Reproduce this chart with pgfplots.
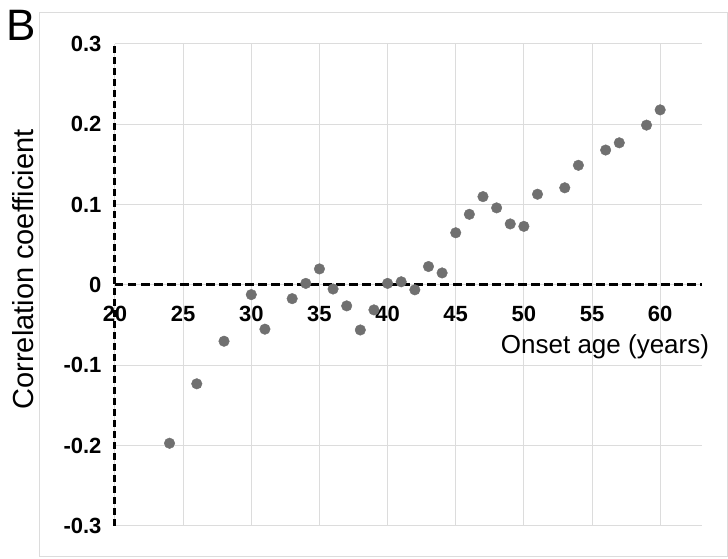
\documentclass[border=0pt]{standalone}
\usepackage{pgfplots}
\pgfplotsset{compat=1.18}
\usepackage{fontspec}
\setmainfont{Liberation Sans}
\definecolor{dotgray}{RGB}{112,112,112}
\definecolor{gridgray}{RGB}{220,220,220}
\newcommand{\tickfont}{\fontsize{22}{26}\selectfont\bfseries}
\begin{document}
\begin{tikzpicture}
\useasboundingbox (-115pt,-33pt) rectangle (613pt,526pt);
\draw[gridgray, line width=1pt] (-75pt,-31pt) rectangle (612pt,513pt);
\begin{axis}[
  at={(0pt,0pt)}, anchor=south west,
  scale only axis, width=587pt, height=482pt,
  xmin=20, xmax=63.07, ymin=-0.3, ymax=0.3,
  xtick={20,25,30,35,40,45,50,55,60},
  xticklabels={20,25,30,35,40,45,50,55,60},
  ytick={-0.3,-0.2,-0.1,0,0.1,0.2,0.3},
  yticklabels={-0.3,-0.2,-0.1,0,0.1,0.2,0.3},
  axis line style={draw=none},
  major tick length=0pt,
  grid=major,
  grid style={gridgray, line width=1pt},
  clip=false,
  /pgf/number format/assume math mode=true,
  xticklabel style={font=\tickfont, anchor=north, yshift=223pt},
  yticklabel style={font=\tickfont, anchor=east, xshift=-10pt},
]
\addplot[only marks, mark=*, mark size=5.3pt, color=dotgray] table {
x y
24 -0.197
26 -0.123
28 -0.070
30 -0.012
31 -0.055
33 -0.017
34 0.002
35 0.020
36 -0.005
37 -0.026
38 -0.056
39 -0.031
40 0.002
41 0.004
42 -0.006
43 0.023
44 0.015
45 0.065
46 0.088
47 0.110
48 0.096
49 0.076
50 0.073
51 0.113
53 0.121
54 0.149
56 0.168
57 0.177
59 0.199
60 0.218
};
\addplot[black, line width=3pt, dash pattern=on 8.5pt off 4.5pt] coordinates {(20,0) (63.07,0)};
\addplot[black, line width=3pt, dash pattern=on 7pt off 4pt] coordinates {(20,-0.3) (20,0.3)};
\end{axis}
\node at (-91.5pt,256.5pt) [rotate=90] {\fontsize{29}{34}\selectfont Correlation coefficient};
\node at (490pt,179pt) {\fontsize{26}{30}\selectfont Onset age (years)};
\node at (-94pt,501pt) {\fontsize{44}{50}\selectfont B};
\end{tikzpicture}
\end{document}
